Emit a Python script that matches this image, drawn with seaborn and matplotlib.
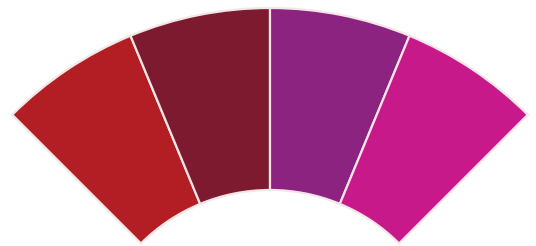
import matplotlib
matplotlib.use("Agg")
import matplotlib.pyplot as plt
import seaborn as sns

# four equal segments of a 90-degree fan
categories = ["A", "B", "C", "D"]
shares = [25, 25, 25, 25]
colors = ["#B21E24", "#7D1A2F", "#8C2381", "#C7198A"]

sns.set_theme(style="white")

fig = plt.figure(figsize=(5.36, 2.46), dpi=100)
ax = fig.add_axes([0, 0, 1, 1])

# the fan covers a quarter circle, the rest stays hidden
hidden = sum(shares) * 3
wedges, _ = ax.pie(
    shares + [hidden],
    colors=colors + ["none"],
    startangle=135,
    counterclock=False,
    center=(270, -126.5),
    radius=364.5,
    wedgeprops=dict(width=182, edgecolor="#F3E6E6", linewidth=1.6),
)
wedges[-1].set_visible(False)

ax.set_xlim(0, 536)
ax.set_ylim(0, 246)
ax.set_aspect("auto")
ax.axis("off")
fig.patch.set_facecolor("white")

fig.savefig("out.png", dpi=100)
